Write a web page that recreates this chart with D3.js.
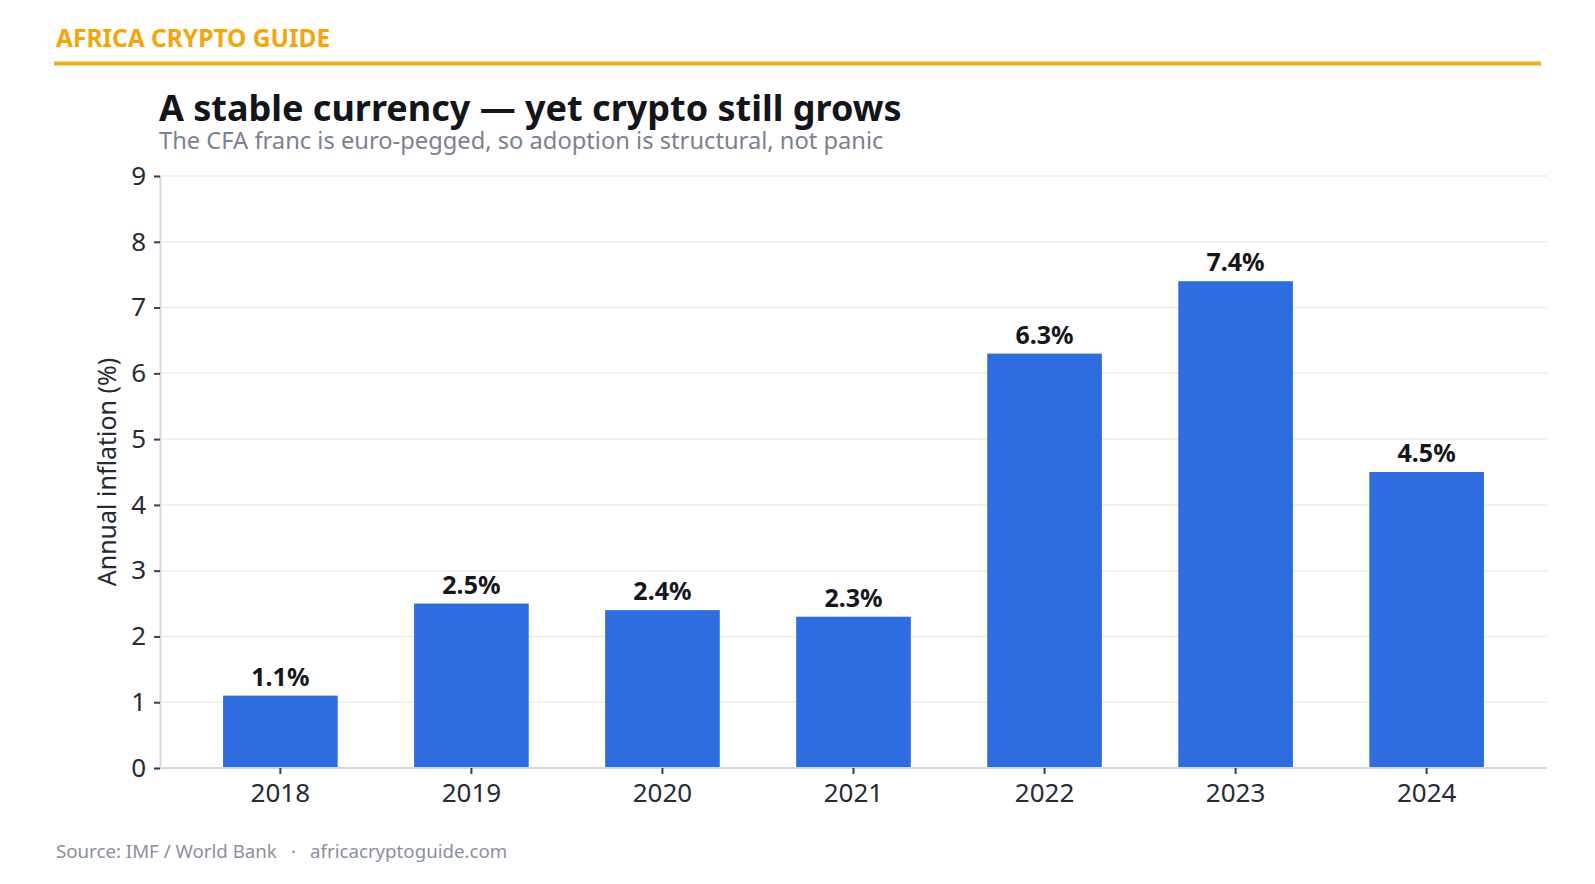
<!DOCTYPE html>
<html>
<head>
<meta charset="utf-8">
<script src="https://cdn.jsdelivr.net/npm/d3@7"></script>
<style>
  body { margin: 0; background: #fff; }
  text { font-family: "Noto Sans", sans-serif; }
</style>
</head>
<body>
<div id="container"></div>
<script>
// data
var years = ["2018", "2019", "2020", "2021", "2022", "2023", "2024"];
var inflation = [1.1, 2.5, 2.4, 2.3, 6.3, 7.4, 4.5];
var yTicks = [0, 1, 2, 3, 4, 5, 6, 7, 8, 9];

var width = 1595, height = 884;
var margin = {top: 176, right: 48, bottom: 116, left: 160};

var svg = d3.select("#container")
  .append("svg")
  .attr("width", width)
  .attr("height", height);

// header
svg.append("text")
  .attr("x", 56).attr("y", 47)
  .text("AFRICA CRYPTO GUIDE")
  .style("font-size", "24.5px")
  .style("font-weight", 700)
  .style("fill", "#f2a60c");

svg.append("rect")
  .attr("x", 54).attr("y", 61.5)
  .attr("width", 1487).attr("height", 4)
  .style("fill", "#f2ac1c");

svg.append("text")
  .attr("x", 159).attr("y", 120.5)
  .text("A stable currency \u2014 yet crypto still grows")
  .style("font-size", "36px")
  .style("font-weight", 700)
  .style("fill", "#13151b");

svg.append("text")
  .attr("x", 159).attr("y", 148.5)
  .text("The CFA franc is euro-pegged, so adoption is structural, not panic")
  .style("font-size", "23.7px")
  .style("fill", "#7c8190");

var x = d3.scaleBand()
  .domain(years)
  .range([margin.left, width - margin.right])
  .paddingInner(0.4)
  .paddingOuter(0.33);

var y = d3.scaleLinear()
  .domain([0, 9])
  .range([height - margin.bottom, margin.top]);

// grid
svg.append("g")
  .selectAll("line")
  .data(yTicks.slice(1))
  .enter()
  .append("line")
  .attr("x1", margin.left).attr("x2", width - margin.right)
  .attr("y1", function(d) { return y(d); })
  .attr("y2", function(d) { return y(d); })
  .style("stroke", "#ebecf0")
  .style("stroke-width", 1.5);

// bars
var bar = svg.selectAll(".bar")
  .data(inflation)
  .enter()
  .append("g")
  .attr("class", "bar");

bar.append("rect")
  .attr("x", function(d, i) { return x(years[i]); })
  .attr("y", function(d) { return y(d); })
  .attr("width", x.bandwidth())
  .attr("height", function(d) { return y(0) - y(d); })
  .style("fill", "#2e6cdf");

bar.append("text")
  .attr("x", function(d, i) { return x(years[i]) + x.bandwidth() / 2; })
  .attr("y", function(d) { return y(d) - 10; })
  .attr("text-anchor", "middle")
  .text(function(d) { return d.toFixed(1) + "%"; })
  .style("font-size", "25px")
  .style("font-weight", 700)
  .style("fill", "#15171c");

// axes
var yAxis = svg.append("g")
  .attr("transform", "translate(" + margin.left + ",0)")
  .call(d3.axisLeft(y).tickValues(yTicks).tickSize(6).tickPadding(8));

var xAxis = svg.append("g")
  .attr("transform", "translate(0," + y(0) + ")")
  .call(d3.axisBottom(x).tickSize(6).tickPadding(10));

[yAxis, xAxis].forEach(function(a) {
  a.select(".domain").style("stroke", "#d5d8de").style("stroke-width", 2);
  a.selectAll(".tick line").style("stroke", "#3a3e48").style("stroke-width", 2);
  a.selectAll(".tick text")
    .style("font-family", "'Noto Sans', sans-serif")
    .style("font-size", "26px")
    .style("fill", "#262a33");
});
xAxis.select(".domain").attr("d", "M" + margin.left + ",0H" + (width - margin.right));

svg.append("text")
  .attr("transform", "translate(116," + ((y(0) + y(9)) / 2) + ") rotate(-90)")
  .attr("text-anchor", "middle")
  .text("Annual inflation (%)")
  .style("font-size", "25px")
  .style("fill", "#262a33");

// footer
var foot = svg.append("text")
  .attr("x", 56).attr("y", 858)
  .style("font-size", "18.7px")
  .style("fill", "#8a8f9b");
foot.append("tspan").text("Source: IMF / World Bank");
foot.append("tspan").attr("x", 291).text("\u00b7");
foot.append("tspan").attr("x", 310).text("africacryptoguide.com");
</script>
</body>
</html>
